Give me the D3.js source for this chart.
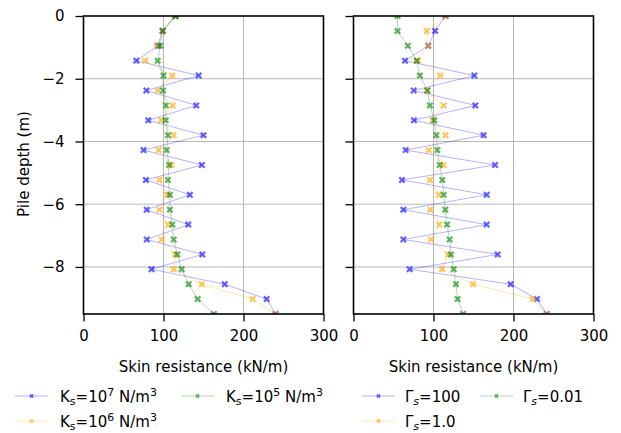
<!DOCTYPE html>
<html>
<head>
<meta charset="utf-8">
<script src="https://cdn.jsdelivr.net/npm/d3@7"></script>
<style>
  html, body { margin: 0; padding: 0; background: #fff; }
  svg { display: block; font-family: "DejaVu Sans", sans-serif; }
</style>
</head>
<body>
<svg id="chart" width="621" height="433"></svg>
<script>
// Depth of each pile node (m)
const depth = [0, -0.475, -0.95, -1.425, -1.9, -2.375, -2.85, -3.325, -3.8, -4.275,
  -4.75, -5.225, -5.7, -6.175, -6.65, -7.125, -7.6, -8.075, -8.55, -9.025, -9.5];

// Skin resistance (kN/m) for different soil stiffness K_s
const ks7 = [115, 99, 93, 66, 144, 78.5, 141, 81, 150, 75, 148, 78, 133, 79, 131, 79, 148.5, 85, 176.5, 229, 240];
const ks6 = [115, 99, 92, 77, 111, 93, 111.5, 97, 112.7, 94, 110, 95, 104.5, 95, 105.6, 97.7, 114.4, 112.7, 147.7, 211.5, 240];
const ks5 = [115, 99, 96, 92.7, 100, 99.4, 103, 102.7, 105.6, 104, 107, 105.6, 108, 108, 111, 112.7, 117.3, 122.7, 131.5, 142.7, 163];

// Skin resistance (kN/m) for different Γ_s
const g100 = [115, 102, 93.5, 64.4, 151, 75.2, 152.3, 75.6, 162.7, 65.2, 177, 60.6, 166.5, 62.3, 166.5, 62.3, 180.2, 70.2, 196.5, 229.4, 241.5];
const g1 = [115, 91.5, 93.5, 80, 108.5, 92, 112.7, 99, 115.2, 94, 112.7, 95.6, 106.5, 96, 107.3, 96.9, 118.1, 110.6, 149.4, 224, 241.5];
const g001 = [55, 55, 68, 79, 83, 92.3, 95.6, 101, 103.5, 104.8, 107.7, 111, 112.7, 114.8, 116.9, 120.2, 121.9, 125.2, 128.1, 130.2, 137];

const xTicks = [0, 100, 200, 300];
const yTicks = [0, -2, -4, -6, -8];
const xDomain = [0, 300];
const yDomain = [-9.5, 0];

const xTitle = "Skin resistance (kN/m)";
const yTitle = "Pile depth (m)";

const colors = { blue: "#0000ff", orange: "#ffa500", green: "#008000" };

const leftSeries = [
  { values: ks7, color: colors.blue, label: [["K"], ["s", "sub"], ["=10"], ["7", "sup"], [" N/m"], ["3", "sup"]] },
  { values: ks6, color: colors.orange, label: [["K"], ["s", "sub"], ["=10"], ["6", "sup"], [" N/m"], ["3", "sup"]] },
  { values: ks5, color: colors.green, label: [["K"], ["s", "sub"], ["=10"], ["5", "sup"], [" N/m"], ["3", "sup"]] }
];
const rightSeries = [
  { values: g100, color: colors.blue, label: [["Γ"], ["s", "subi"], ["=100"]] },
  { values: g1, color: colors.orange, label: [["Γ"], ["s", "subi"], ["=1.0"]] },
  { values: g001, color: colors.green, label: [["Γ"], ["s", "subi"], ["=0.01"]] }
];

const svg = d3.select("#chart");
const plotTop = 16, plotBottom = 314;
const panelW = 240;

function crossPath(s) {
  return `M${-s},${-s}L${s},${s}M${-s},${s}L${s},${-s}`;
}

function drawPanel(x0, series, withYLabels, id) {
  const x = d3.scaleLinear().domain(xDomain).range([x0, x0 + panelW]);
  const y = d3.scaleLinear().domain(yDomain).range([plotBottom, plotTop]);
  const g = svg.append("g");

  g.append("clipPath").attr("id", id)
    .append("rect").attr("x", x0).attr("y", plotTop).attr("width", panelW).attr("height", plotBottom - plotTop);

  // grid
  const grid = g.append("g").attr("stroke", "#b0b0b0").attr("stroke-width", 0.9);
  xTicks.filter(t => t > xDomain[0] && t < xDomain[1]).forEach(t => {
    grid.append("line").attr("x1", x(t)).attr("x2", x(t)).attr("y1", plotTop).attr("y2", plotBottom);
  });
  yTicks.filter(t => t > yDomain[0] && t < yDomain[1]).forEach(t => {
    grid.append("line").attr("x1", x0).attr("x2", x0 + panelW).attr("y1", y(t)).attr("y2", y(t));
  });

  const plot = g.append("g").attr("clip-path", `url(#${id})`);
  const line = d3.line().x(d => x(d[0])).y(d => y(d[1]));
  series.forEach(s => {
    const pts = s.values.map((v, i) => [v, depth[i]]);
    plot.append("path").datum(pts).attr("d", line)
      .attr("fill", "none").attr("stroke", s.color).attr("stroke-opacity", 0.3).attr("stroke-width", 1);
    plot.append("g").selectAll("path").data(pts).join("path")
      .attr("transform", d => `translate(${x(d[0])},${y(d[1])})`)
      .attr("d", crossPath(2.7))
      .attr("fill", "none").attr("stroke", s.color).attr("stroke-opacity", 0.6).attr("stroke-width", 2.3);
  });

  // axes
  const xAxis = d3.axisBottom(x).tickValues(xTicks).tickSize(7.5).tickPadding(9);
  const gx = g.append("g").attr("transform", `translate(0,${plotBottom})`).call(xAxis);
  const yAxis = d3.axisLeft(y).tickValues(yTicks).tickSize(8).tickPadding(11);
  if (!withYLabels) yAxis.tickFormat("");
  const gy = g.append("g").attr("transform", `translate(${x0},0)`).call(yAxis);
  [gx, gy].forEach(a => {
    a.select(".domain").remove();
    a.selectAll(".tick line").attr("stroke", "#000").attr("stroke-width", 1.3);
    a.selectAll("text").attr("font-size", 15).attr("fill", "#000").attr("font-family", "DejaVu Sans");
  });

  // frame
  g.append("rect").attr("x", x0).attr("y", plotTop).attr("width", panelW).attr("height", plotBottom - plotTop)
    .attr("fill", "none").attr("stroke", "#000").attr("stroke-width", 1.6);

  g.append("text").attr("x", x0 + panelW / 2).attr("y", 372)
    .attr("text-anchor", "middle").attr("font-size", 15).text(xTitle);

  return { x, y };
}

function addLabel(textSel, parts) {
  let shift = 0;
  parts.forEach(([t, kind]) => {
    const ts = textSel.append("tspan").text(t);
    let target = 0;
    if (kind === "sub" || kind === "subi") target = 3;
    if (kind === "sup") target = -6;
    ts.attr("dy", target - shift);
    shift = target;
    if (kind) ts.attr("font-size", 11);
    if (kind === "subi") ts.attr("font-style", "italic");
  });
}

function drawLegend(x0, y0, colW, textOff, series) {
  // two columns, filled column by column
  const positions = [[0, 0], [0, 1], [1, 0]];
  series.forEach((s, i) => {
    const [c, r] = positions[i];
    const lx = x0 + c * colW, ly = y0 + r * 25;
    const g = svg.append("g").attr("transform", `translate(${lx},${ly})`);
    g.append("line").attr("x1", 0).attr("x2", 33).attr("y1", 0).attr("y2", 0)
      .attr("stroke", s.color).attr("stroke-opacity", 0.3).attr("stroke-width", 1);
    g.append("path").attr("transform", "translate(16.5,0)").attr("d", crossPath(1.6))
      .attr("fill", "none").attr("stroke", s.color).attr("stroke-opacity", 0.6).attr("stroke-width", 1.6);
    const t = g.append("text").attr("x", textOff).attr("y", 5.5).attr("font-size", 15);
    addLabel(t, s.label);
  });
}

drawPanel(83.5, leftSeries, true, "clipL");
drawPanel(353.5, rightSeries, false, "clipR");

svg.append("text").attr("transform", "translate(29,164) rotate(-90)")
  .attr("text-anchor", "middle").attr("font-size", 15).text(yTitle);

drawLegend(15, 396, 166, 45, leftSeries);
drawLegend(362, 396, 118, 43, rightSeries);
</script>
</body>
</html>
